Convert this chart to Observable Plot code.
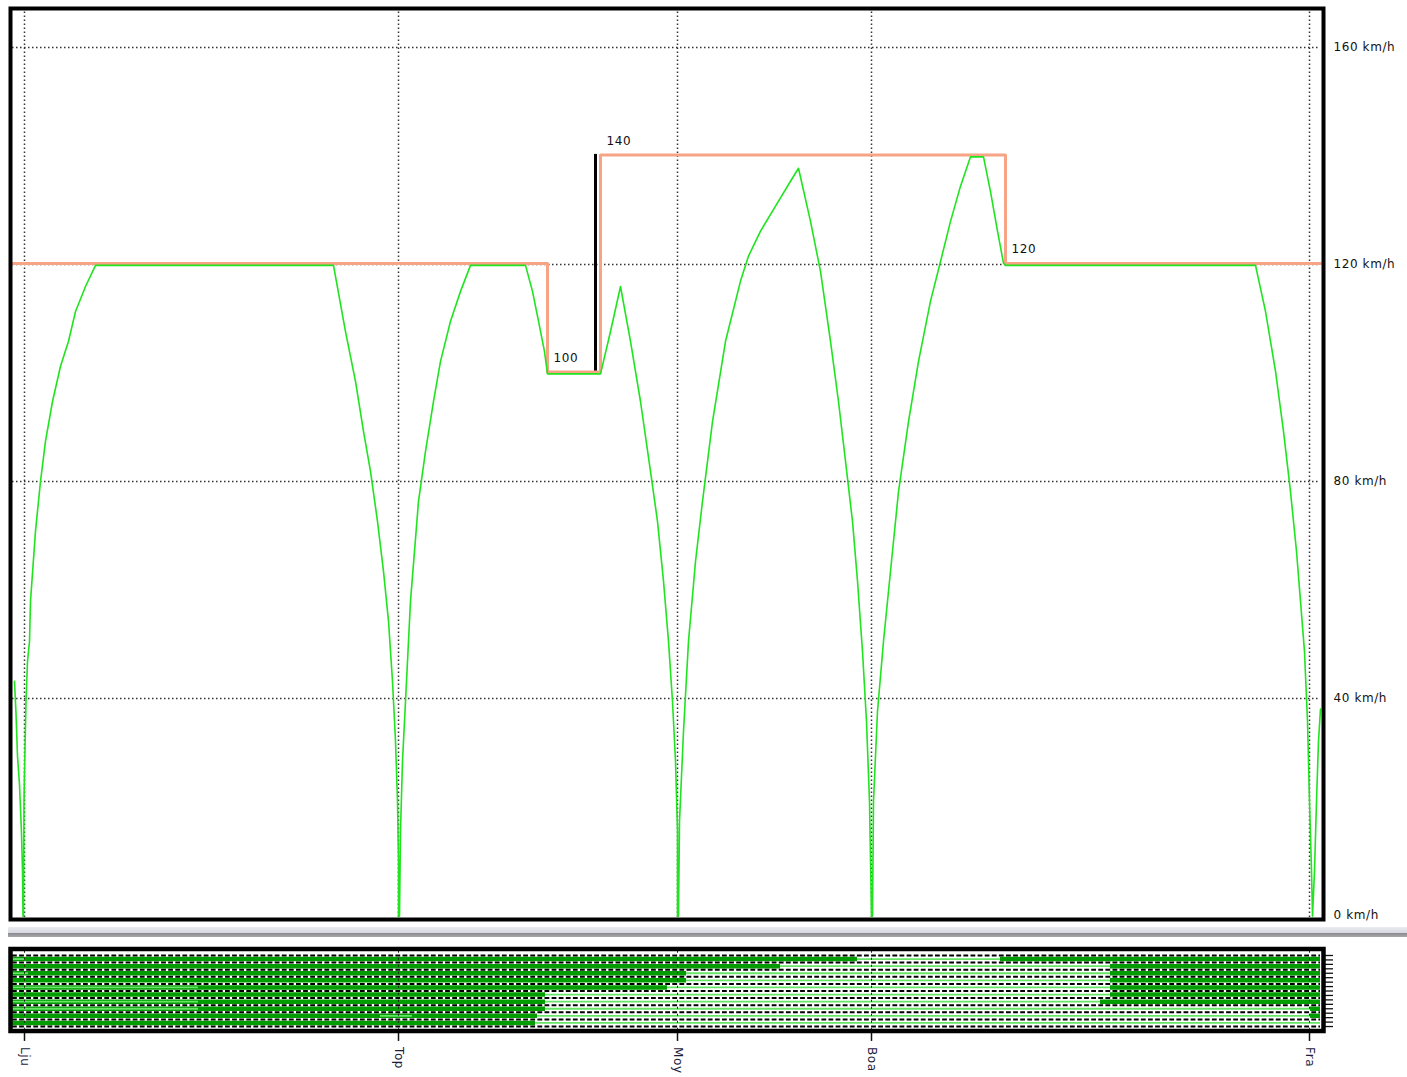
<!DOCTYPE html>
<html><head><meta charset="utf-8">
<script src="https://cdn.jsdelivr.net/npm/d3@7"></script>
<script src="https://cdn.jsdelivr.net/npm/@observablehq/plot@0.6"></script>
<style>
body{margin:0;background:#fff;width:1407px;height:1077px;overflow:hidden;position:relative;font-family:"DejaVu Sans",sans-serif}
#topline{position:absolute;left:8px;top:3px;width:1399px;height:2px;background:#c4c4c8}
#main{position:absolute;left:0;top:0}
#sep{position:absolute;left:8px;top:927px;width:1399px;height:10px;background:linear-gradient(#ececf2 0%,#d8d8e2 55%,#8c8c90 62%,#a8a8ac 100%)}
#strip{position:absolute;left:0;top:937px}
svg text{letter-spacing:0.6px}
</style></head><body>
<div id="topline"></div>
<div id="main"></div>
<div id="sep"></div>
<div id="strip"></div>
<script>
// Stations (km along the line)
const stationNames = ["Lju", "Top", "Moy", "Boa", "Fra"];
const stationKm = [0, 37.4, 65.3, 84.7, 128.5];
// Speed axis ticks (km/h)
const speedTicks = [0, 40, 80, 120, 160];
// Line speed limit: value valid from each km until the next
const limitKm = [-1.2, 52.3, 57.6, 98.1, 129.6];
const limitKmh = [120, 100, 140, 120, 120];
// Signal mark (black riser)
const signalKm = [57.1];
// Train run: speed profile
const runKm = [-1.0,-0.85,-0.7,-0.5,-0.3,-0.2,-0.15,-0.1,-0.05,0.0,0.15,0.3,0.5,0.6,1.1,1.6,2.1,2.8,3.6,4.4,5.1,6.1,7.1,
  30.9,32.1,33.1,33.9,34.6,35.3,35.9,36.4,36.8,37.1,37.3,37.4,37.4,
  37.5,37.6,37.8,38.1,38.6,39.4,40.1,40.9,41.6,42.6,43.6,44.6,
  50.1,50.8,51.4,52.0,52.3,57.6,58.6,59.6,
  60.6,61.6,62.6,63.3,63.9,64.4,64.8,65.1,65.3,65.3,
  65.4,65.5,65.9,66.4,67.1,67.8,68.8,70.1,71.6,72.4,73.6,75.1,76.6,77.4,
  78.6,79.6,80.6,81.4,82.1,82.8,83.3,83.8,84.2,84.5,84.7,
  84.8,84.9,85.3,85.9,86.6,87.4,88.4,89.4,90.6,91.6,92.6,93.6,94.6,
  95.9,96.6,97.3,97.9,98.1,123.1,
  124.1,125.1,125.9,126.6,127.2,127.6,128.0,128.3,128.5,128.7,128.8,
  129.0,129.2,129.4,129.6];
const runKmh = [43.3,37.4,29.5,24.3,15.3,8.3,0,0,21.2,26.7,39.6,47.0,50.7,58.1,71.0,80.2,87.6,94.9,101.4,106.0,111.5,116.1,120,
  120,107.8,98.6,89.4,82.0,72.8,63.6,54.4,43.3,32.3,21.2,10.1,0,
  0,15.7,28.6,39.6,58.1,76.5,85.7,94.9,102.3,109.7,115.2,120,
  120,115.2,109.7,104.1,100,100,107.8,116.1,
  106.0,94.9,82.0,72.8,61.8,50.7,39.6,28.6,15.7,0,
  0,17.5,34.1,50.7,65.4,76.5,91.2,106.0,117.1,121.7,126.3,130.9,135.5,137.9,
  128.1,118.9,106.0,94.9,83.9,72.8,61.8,48.8,35.9,21.2,0,
  0,21.2,37.8,50.7,63.6,78.3,91.2,102.3,113.4,120.7,128.1,134.6,140,
  140,133.6,126.3,120.4,120,120,
  111.5,100.5,89.4,78.3,67.3,58.1,48.8,35.9,21.2,8.3,0,
  8.3,21.2,32.3,38.2];
// Occupation strip: band index and occupied km ranges (dark)
const stripBand = [0,0, 1,1, 2,2, 3,3, 4,4, 5,5, 6,6, 7,7, 8,8, 9];
const stripFrom = [-1.2,97.6, -1.2,108.6, -1.2,108.6, -1.2,108.6, -1.2,108.6, -1.2,108.6, -1.2,107.6, -1.2,128.6, -1.2,128.6, -1.2];
const stripTo   = [83.3,129.6, 75.6,129.6, 66.2,129.6, 66.2,129.6, 64.3,129.6, 52.1,129.6, 52.1,129.6, 52.1,129.6, 51.3,129.6, 51.1];
// Released sections inside occupied ranges (light)
const lightBand = [0, 2, 4, 6, 7, 8];
const lightFrom = [-1.1, -1.1, -1.1, -1.1, -1.1, 35.6];
const lightTo   = [0.1, 0.4, 17.4, 17.4, 17.4, 38.8];
const stripLines = [0,1,2,3,4,5,6,7,8,9,10];
const stripTicks = [0,0.625,1.25,1.875,2.5,3.125,3.75,4.375,5,5.625,6.25,6.875,7.5,8.125,8.75,9.375,10];

const X0 = -1.4, X1 = 129.9, IN0 = -1.2, IN1 = 129.6;
const salmon = "#f7a386", green = "#1fe41f", light = "#66e466";

const limitPts = limitKm.map((k, i) => ({km: k, v: limitKmh[i]}));
const changes = limitPts.slice(1, 4);

const main = Plot.plot({
  width: 1407, height: 926,
  marginLeft: 10, marginRight: 84, marginTop: 8, marginBottom: 7,
  x: {domain: [X0, X1], axis: null},
  y: {domain: [-0.74, 167.2], axis: null},
  style: {fontFamily: "DejaVu Sans", fontSize: "12px", background: "white", color: "black", overflow: "visible"},
  marks: [
    Plot.ruleY(speedTicks.slice(1), {y: d => d, x1: IN0, x2: IN1, stroke: "#333", strokeWidth: 1.5, strokeDasharray: "1.5,2.5"}),
    Plot.ruleX(stationKm, {x: d => d, y1: -0.37, y2: 166.8, stroke: "#333", strokeWidth: 1.5, strokeDasharray: "1.5,2.5"}),
    Plot.ruleX(signalKm, {x: d => d, y1: 100, y2: 140.3, stroke: "black", strokeWidth: 3}),
    Plot.line(limitPts, {x: "km", y: "v", curve: "step-after", stroke: salmon, strokeWidth: 3, dy: -1}),
    Plot.line({length: runKm.length}, {x: runKm, y: runKmh, stroke: green, strokeWidth: 1.6, dy: 0.8}),
    Plot.text(changes, {x: "km", y: "v", text: d => String(d.v), dx: 6, dy: -15, textAnchor: "start", fill: "#111"}),
    Plot.text(speedTicks, {x: X1, y: d => d, text: d => `${d} km/h`, dx: 10, textAnchor: "start", fill: "#111"}),
    Plot.frame({stroke: "black", strokeWidth: 4})
  ]
});
document.getElementById("main").append(main);

const segs = stripBand.map((b, i) => ({b, x1: stripFrom[i], x2: stripTo[i]}));
const lights = lightBand.map((b, i) => ({b, x1: lightFrom[i], x2: lightTo[i]}));
const bands = [0,1,2,3,4,5,6,7,8,9];

const strip = Plot.plot({
  width: 1407, height: 140,
  marginLeft: 10, marginRight: 84, marginTop: 11.5, marginBottom: 46.5,
  x: {domain: [X0, X1], axis: null},
  y: {domain: [-0.915, 10.63], reverse: true, axis: null},
  style: {fontFamily: "DejaVu Sans", fontSize: "12px", background: "white", color: "black", overflow: "visible"},
  marks: [
    Plot.ruleY(bands, {y: d => d + 0.5, x1: IN0, x2: IN1, stroke: light, strokeWidth: 1.8}),
    Plot.rect(segs, {x1: "x1", x2: "x2", y1: d => d.b, y2: d => d.b + 1, fill: "#009c00"}),
    Plot.ruleY(lights, {y: d => d.b + 0.5, x1: "x1", x2: "x2", stroke: light, strokeWidth: 1.8}),
    Plot.ruleY(stripLines, {y: d => d, x1: IN0, x2: IN1, stroke: "white", strokeWidth: 2.6}),
    Plot.ruleY(stripLines, {y: d => d, x1: IN0, x2: IN1, stroke: "black", strokeWidth: 2, strokeDasharray: "4.8,2.3"}),
    Plot.ruleX(stationKm, {x: d => d, y1: -0.6, y2: 10.4, stroke: "#222", strokeWidth: 1, strokeDasharray: "2,5"}),
    Plot.ruleX(stationKm, {x: d => d, y1: 10.63, y2: 12.1, stroke: "#111", strokeWidth: 1.5}),
    Plot.ruleY(stripTicks, {y: d => d, x1: X1, x2: 130.9, stroke: "#111", strokeWidth: 1.3}),
    Plot.frame({stroke: "black", strokeWidth: 4.5}),
    Plot.text(stationNames, {x: (d, i) => stationKm[i], y: 10.63, dy: 16, rotate: 90, textAnchor: "start", fill: "#1c1c3c"})
  ]
});
document.getElementById("strip").append(strip);
</script>
</body></html>
